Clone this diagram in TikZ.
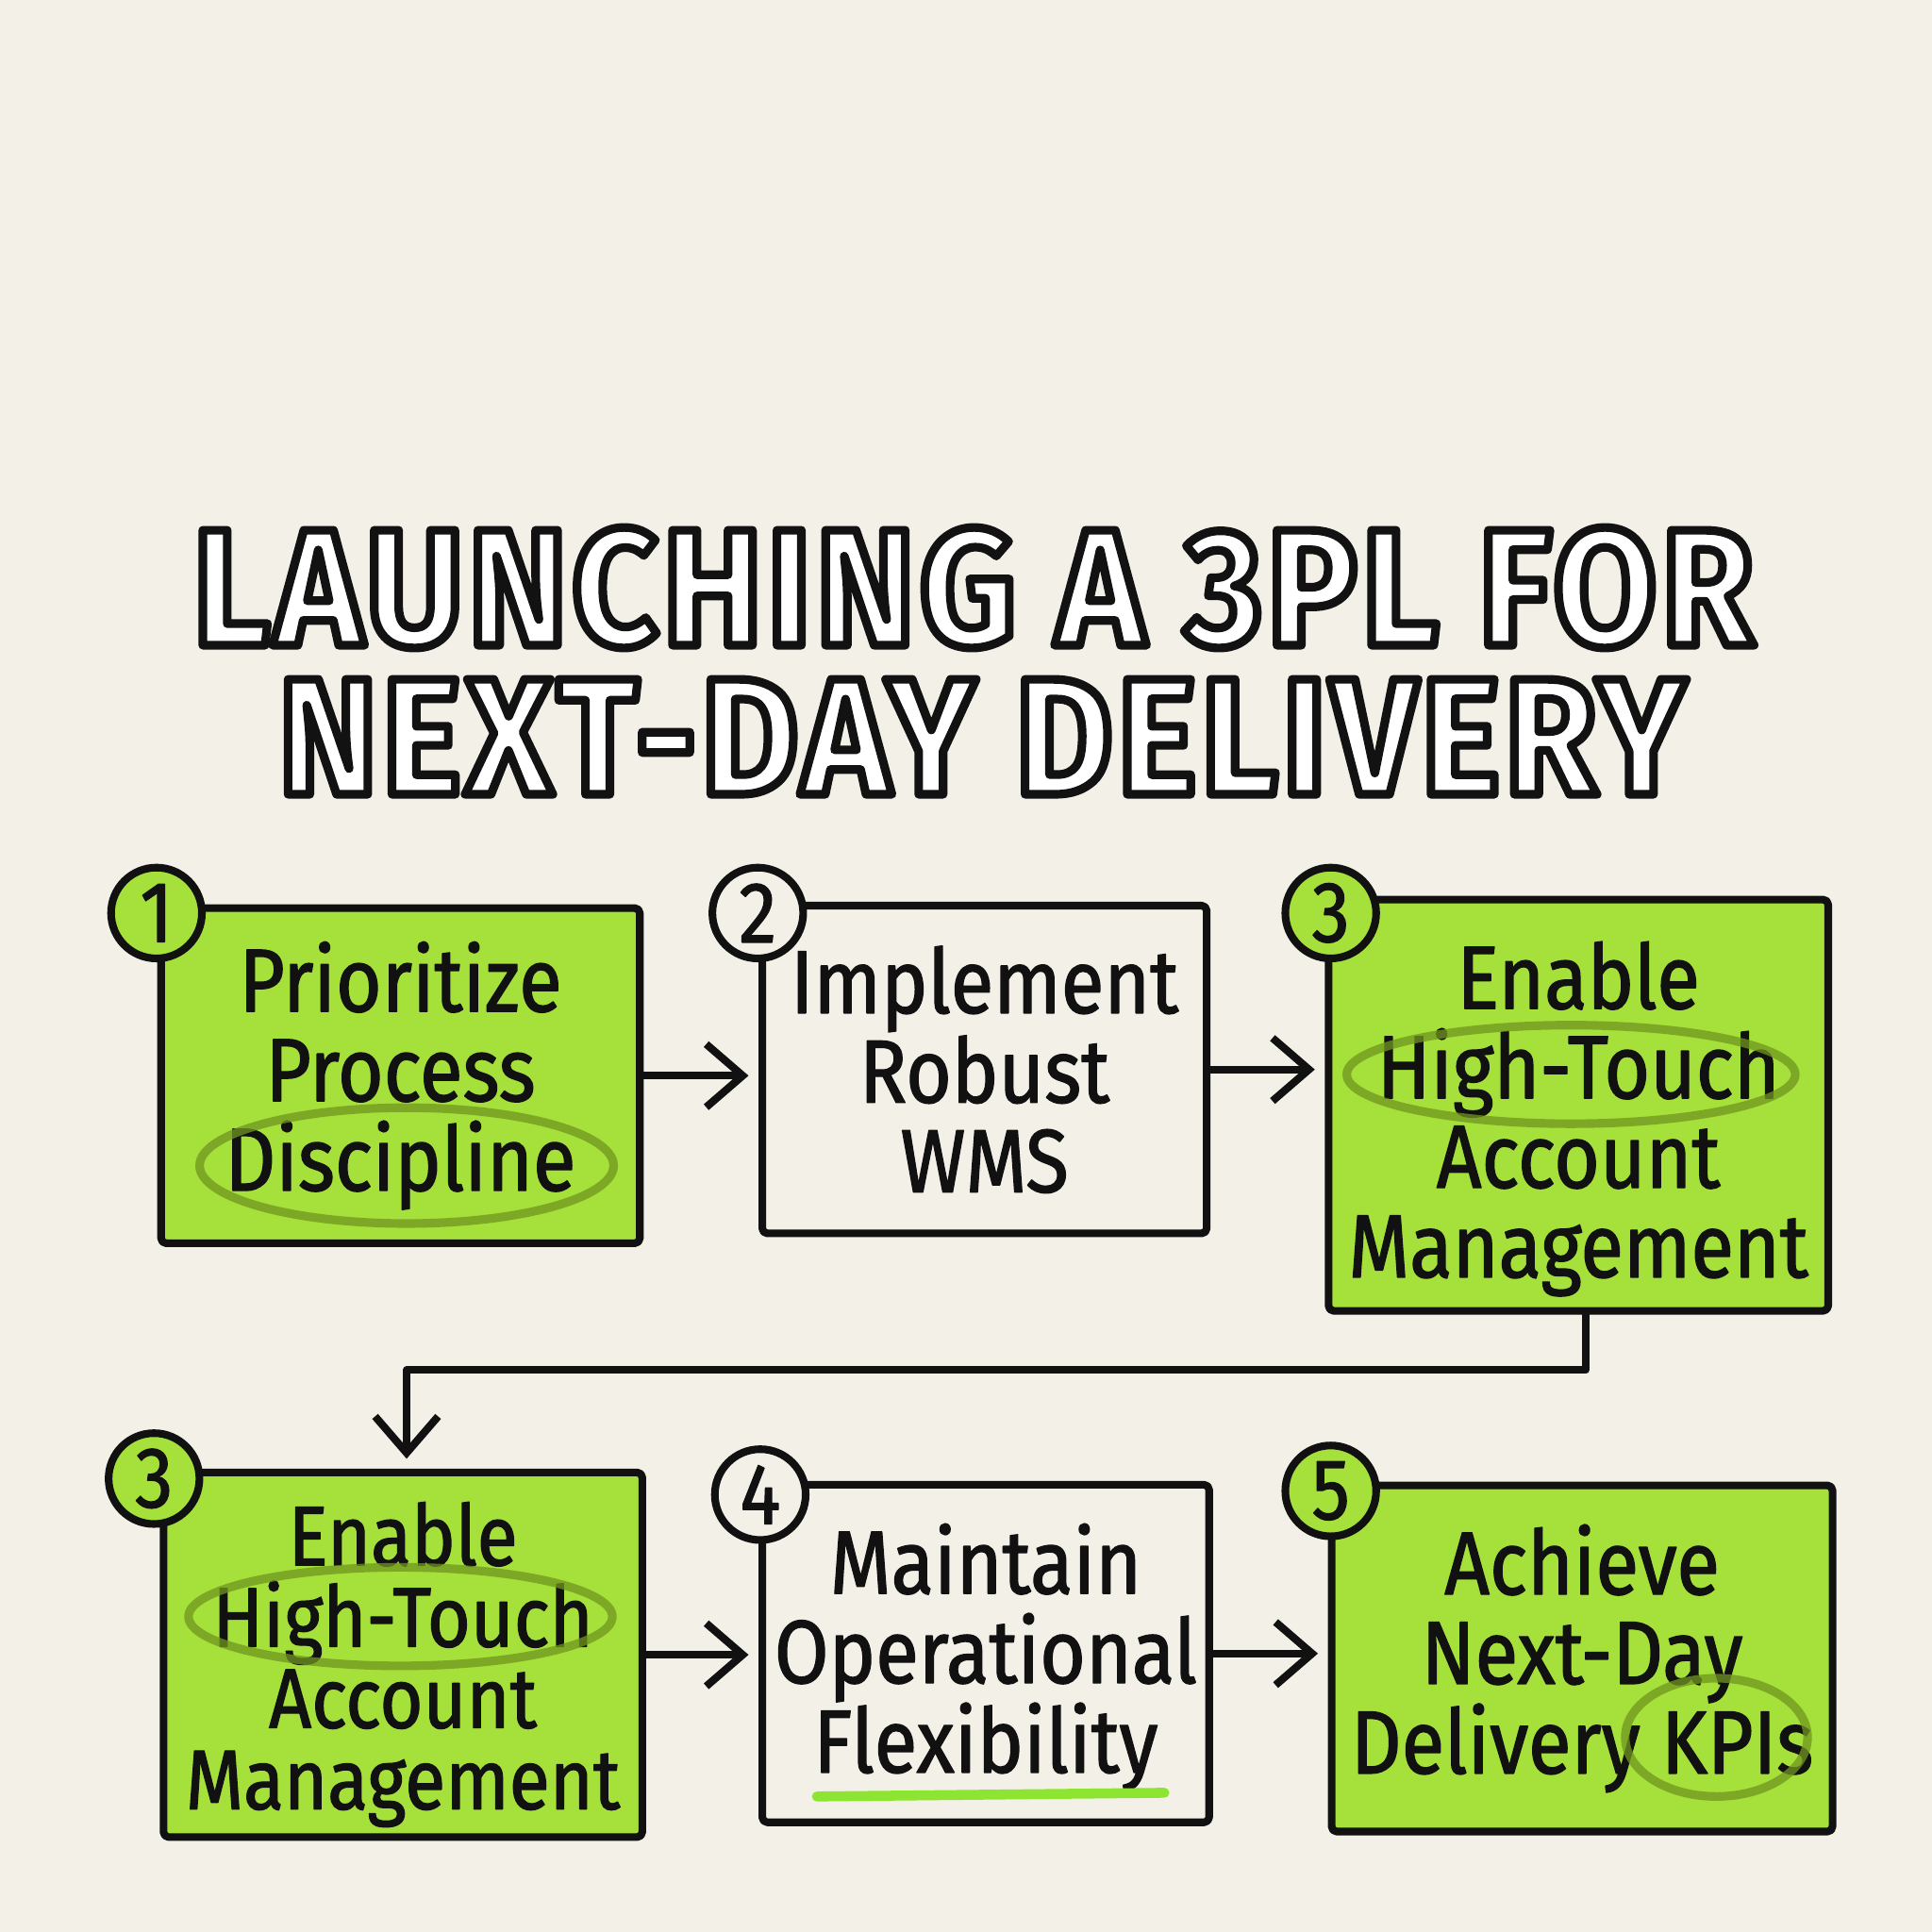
\documentclass[tikz,border=0pt]{standalone}
\usepackage{fontspec}
\usetikzlibrary{arrows.meta,calc}
\setmainfont{Fira Sans}
\newfontfamily\hand[FakeStretch=0.88,FakeBold=1.4]{Fira Sans}
\newfontfamily\titlefont[FakeStretch=0.9,LetterSpace=3]{Fira Sans}
\definecolor{bg}{RGB}{243,240,232}
\definecolor{lime}{RGB}{166,224,58}
\definecolor{olive}{RGB}{112,150,32}
\definecolor{ink}{RGB}{17,17,17}
\newcommand\spx{0.3702pt}
\newcommand\outlined[1]{\special{pdf:literal direct 2 Tr 2.6 w 0.07 G 1 g}#1\special{pdf:literal direct 0 Tr}}
\newcommand\lift[1]{\rule{0pt}{#1}}
\tikzset{
  box/.style={draw=ink, line width=2.3pt, rounded corners=1.5pt, align=center,
    font=\hand\fontsize{27}{27}\selectfont, inner sep=0pt, text=ink},
  gbox/.style={box, fill=lime},
  wbox/.style={box, fill=bg},
  gnum/.style={circle, draw=ink, fill=lime, line width=2.3pt, minimum size=74*\spx, inner sep=0pt, text=ink,
    font=\hand\fontsize{26}{26}\selectfont},
  wnum/.style={gnum, fill=bg},
  arr/.style={draw=ink, line width=2.3pt, shorten >=3pt, -{Straight Barb[length=11pt,width=19pt]}},
  hl/.style={draw=olive, line width=2.6pt, opacity=0.75},
  ttl/.style={text=white, font=\titlefont\bfseries\fontsize{50}{50}\selectfont}
}
\begin{document}
\begin{tikzpicture}[x=0.1306mm, y=-0.1306mm, line join=round, line cap=round]
\fill[bg] (0,0) rectangle (1568,1568);
\useasboundingbox (0,0) rectangle (1568,1568);

% title
\node[ttl] (t1) at (790,477) {\outlined{LAUNCHING A 3PL FOR}};
\node[ttl] (t2) at (797,598) {\outlined{NEXT-DAY DELIVERY}};

% boxes
\node[gbox, minimum width=390*\spx, minimum height=273*\spx] (b1) at (325,873)
  {Prioritize\\Process\\Discipline};
\node[wbox, minimum width=362*\spx, minimum height=267*\spx] (b2) at (799,868)
  {Implement\\Robust\\WMS};
\node[gbox, minimum width=407*\spx, minimum height=335*\spx] (b3) at (1281,897)
  {\lift{28.5pt}Enable\\High-Touch\\Account\\Management};
\node[gbox, minimum width=390*\spx, minimum height=297*\spx, font=\hand\fontsize{25.5}{24.5}\selectfont] (b3b) at (327,1343)
  {\lift{25pt}Enable\\High-Touch\\Account\\Management};
\node[wbox, minimum width=364*\spx, minimum height=275*\spx] (b4) at (800,1342)
  {\lift{23.5pt}Maintain\\Operational\\Flexibility};
\node[gbox, minimum width=408*\spx, minimum height=282*\spx] (b5) at (1284,1346)
  {Achieve\\Next-Day\\Delivery KPIs};

% highlights
\draw[hl] (330,946) ellipse [x radius=168, y radius=47];
\draw[hl] (1275,872) ellipse [x radius=182, y radius=40];
\draw[hl] (325,1312) ellipse [x radius=172, y radius=40];
\draw[hl] (1393,1410) ellipse [x radius=74, y radius=48];
\draw[draw=lime!85!green, line width=3pt] (663,1458) -- (945,1455);

% connectors
\draw[arr] (b1.east) -- (b2.west |- b1.east);
\draw[arr] (b2.east) -- (b3.west |- b2.east);
\draw[arr] ([xshift=6*\spx]b3.south) -- ++(0,45) -| ([xshift=3*\spx]b3b.north);
\draw[arr] (b3b.east) -- (b4.west |- b3b.east);
\draw[arr] (b4.east) -- (b5.west |- b4.east);

% number badges
\node[gnum] (n1) at (127,741) {1};
\node[wnum] (n2) at (615,741) {2};
\node[gnum] (n3) at (1080,741) {3};
\node[gnum] (n3b) at (125,1200) {3};
\node[wnum] (n4) at (617,1213) {4};
\node[gnum] (n5) at (1080,1210) {5};
\end{tikzpicture}
\end{document}
